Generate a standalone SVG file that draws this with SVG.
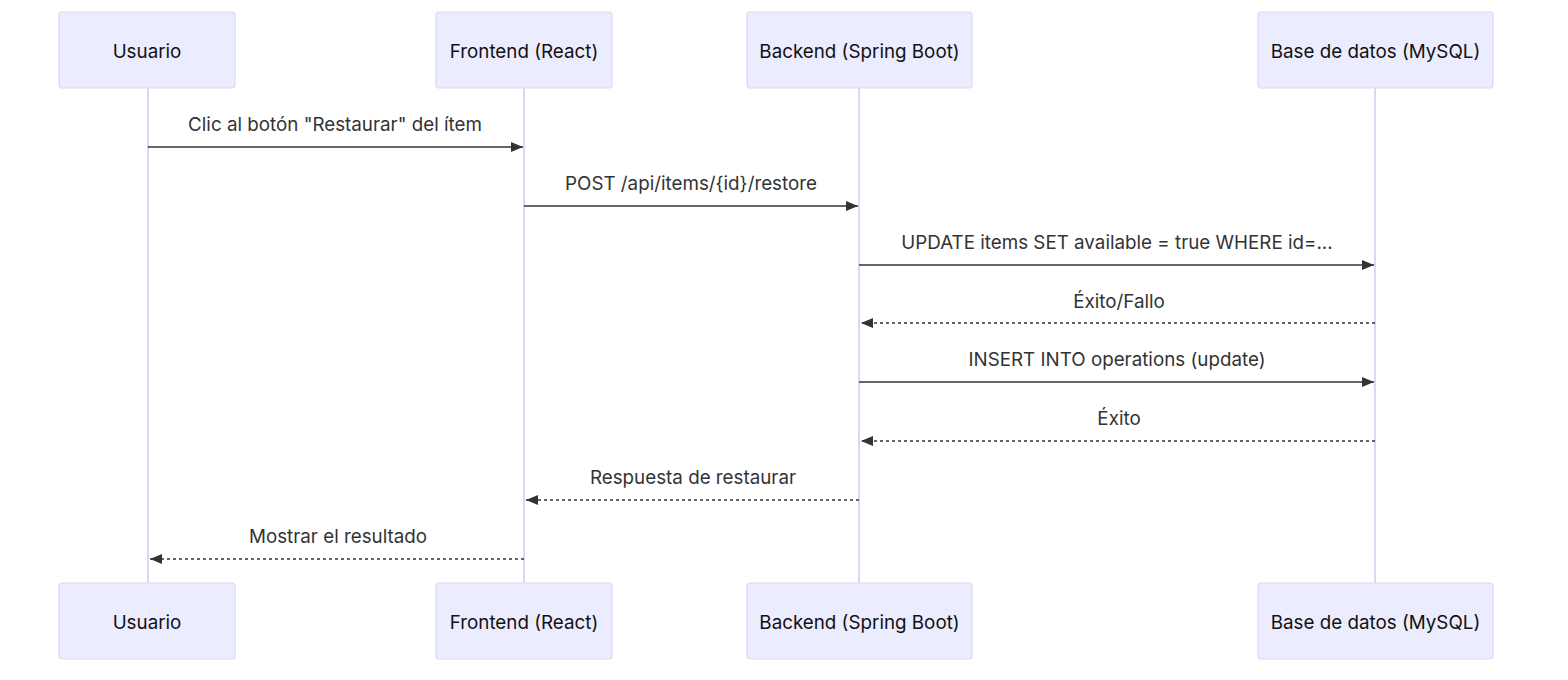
<svg xmlns="http://www.w3.org/2000/svg" width="1568" height="680" viewBox="0 0 1568 680">
<defs>
<marker id="arrow" viewBox="0 0 12 10" refX="12" refY="5" markerWidth="12" markerHeight="10" markerUnits="userSpaceOnUse" orient="auto-start-reverse">
<path d="M0,0 L12,5 L0,10 z" fill="#333333"/>
</marker>
<style>
.actor{fill:#ECECFF;stroke:#DDD6F5;stroke-width:1.2}
.life{stroke:#DDD6F5;stroke-width:2;fill:none}
.atext{font-family:Inter,"Liberation Sans",sans-serif;font-size:18.8px;fill:#111111;text-anchor:middle;dominant-baseline:central}
.mtext{font-family:Inter,"Liberation Sans",sans-serif;font-size:18.8px;fill:#333333;text-anchor:middle;dominant-baseline:central}
.msg{stroke:#333333;stroke-width:1.6;fill:none}
.dash{stroke-dasharray:3 3}
</style>
</defs>
<rect width="1568" height="680" fill="#ffffff"/>
<g id="lifelines">
<line class="life" x1="148" y1="88" x2="148" y2="583"/>
<line class="life" x1="524" y1="88" x2="524" y2="583"/>
<line class="life" x1="859" y1="88" x2="859" y2="583"/>
<line class="life" x1="1375" y1="88" x2="1375" y2="583"/>
</g>
<g id="usuario">
<rect class="actor" x="59" y="12" width="176" height="76" rx="3"/>
<text class="atext" x="147" y="51">Usuario</text>
<rect class="actor" x="59" y="583" width="176" height="76" rx="3"/>
<text class="atext" x="147" y="622">Usuario</text>
</g>
<g id="frontend">
<rect class="actor" x="436" y="12" width="176" height="76" rx="3"/>
<text class="atext" x="524" y="51">Frontend (React)</text>
<rect class="actor" x="436" y="583" width="176" height="76" rx="3"/>
<text class="atext" x="524" y="622">Frontend (React)</text>
</g>
<g id="backend">
<rect class="actor" x="747" y="12" width="225" height="76" rx="3"/>
<text class="atext" x="859.5" y="51">Backend (Spring Boot)</text>
<rect class="actor" x="747" y="583" width="225" height="76" rx="3"/>
<text class="atext" x="859.5" y="622">Backend (Spring Boot)</text>
</g>
<g id="database">
<rect class="actor" x="1258" y="12" width="235" height="76" rx="3"/>
<text class="atext" x="1375.5" y="51">Base de datos (MySQL)</text>
<rect class="actor" x="1258" y="583" width="235" height="76" rx="3"/>
<text class="atext" x="1375.5" y="622">Base de datos (MySQL)</text>
</g>
<g id="connectors">
<text class="mtext" x="335" y="124">Clic al botón "Restaurar" del ítem</text>
<line class="msg" x1="148" y1="147" x2="523" y2="147" marker-end="url(#arrow)"/>
<text class="mtext" x="691" y="183">POST /api/items/{id}/restore</text>
<line class="msg" x1="524" y1="206" x2="858" y2="206" marker-end="url(#arrow)"/>
<text class="mtext" x="1117" y="242">UPDATE items SET available = true WHERE id=...</text>
<line class="msg" x1="859" y1="265" x2="1374" y2="265" marker-end="url(#arrow)"/>
<text class="mtext" x="1119" y="301">Éxito/Fallo</text>
<line class="msg dash" x1="1375" y1="323" x2="861" y2="323" marker-end="url(#arrow)"/>
<text class="mtext" x="1117" y="359">INSERT INTO operations (update)</text>
<line class="msg" x1="859" y1="382" x2="1374" y2="382" marker-end="url(#arrow)"/>
<text class="mtext" x="1119" y="418">Éxito</text>
<line class="msg dash" x1="1375" y1="441" x2="861" y2="441" marker-end="url(#arrow)"/>
<text class="mtext" x="693" y="477">Respuesta de restaurar</text>
<line class="msg dash" x1="859" y1="500" x2="526" y2="500" marker-end="url(#arrow)"/>
<text class="mtext" x="338" y="536">Mostrar el resultado</text>
<line class="msg dash" x1="524" y1="559" x2="150" y2="559" marker-end="url(#arrow)"/>
</g>
</svg>
